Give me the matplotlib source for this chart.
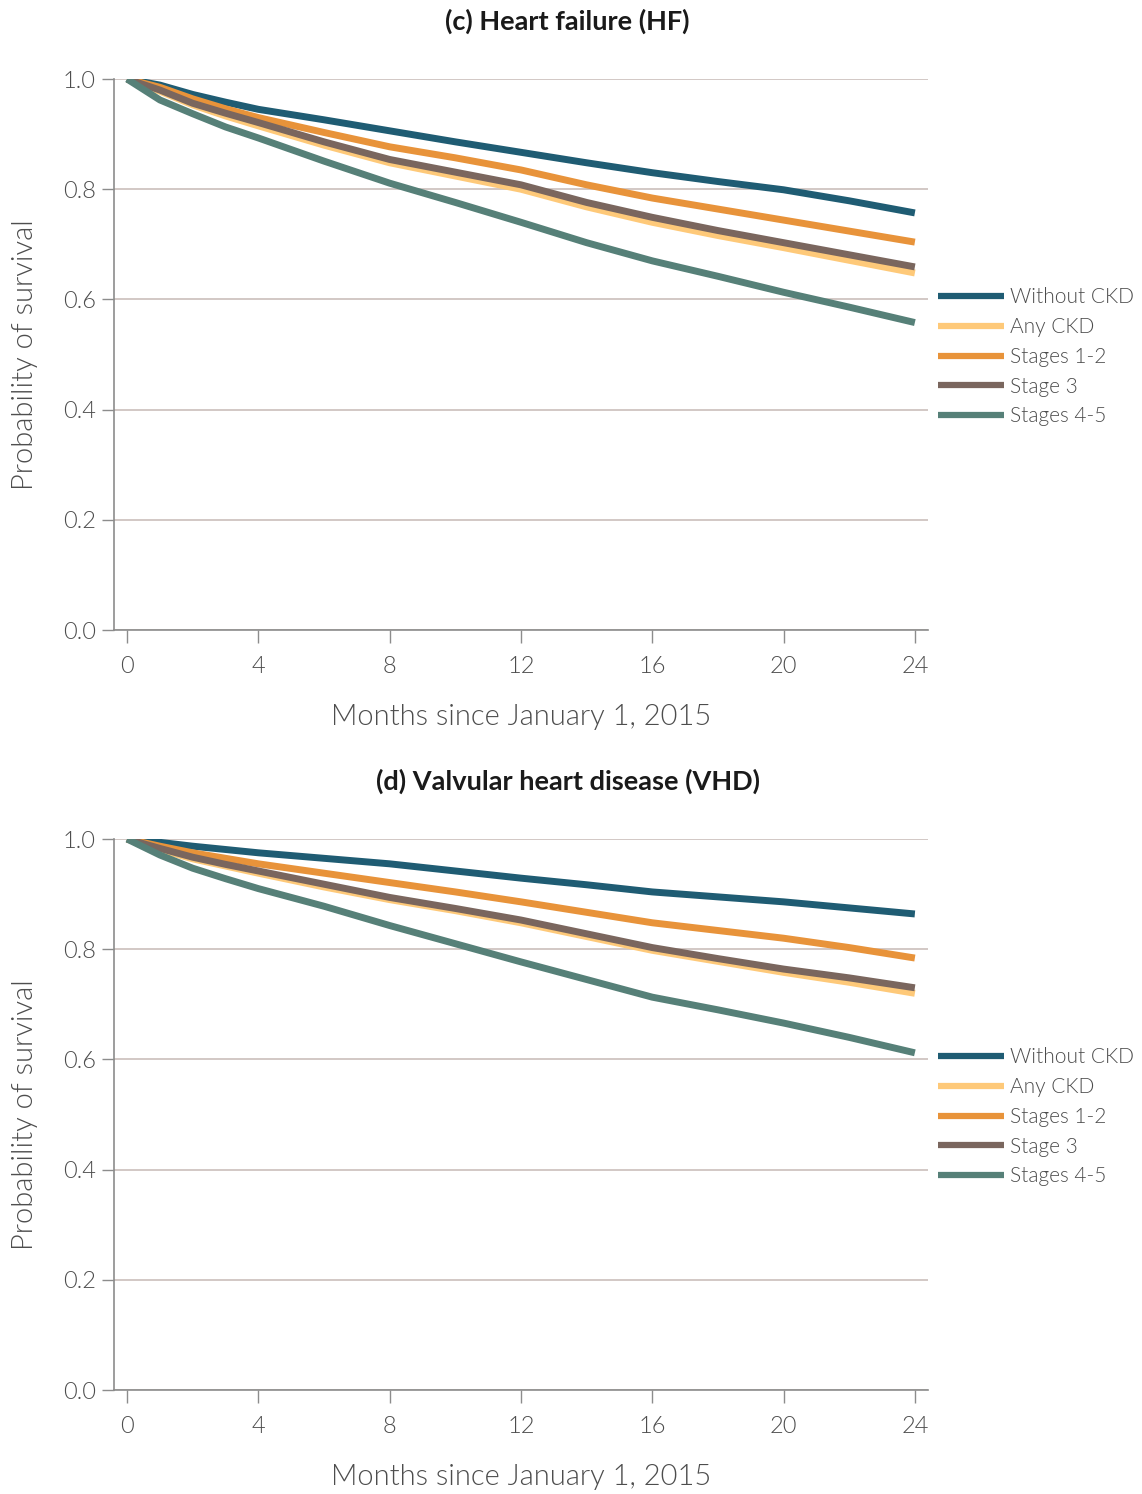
import matplotlib
matplotlib.use("Agg")
import matplotlib.pyplot as plt

months = [0, 1, 2, 3, 4, 6, 8, 10, 12, 14, 16, 18, 20, 22, 24]
series_names = ["Without CKD", "Any CKD", "Stages 1-2", "Stage 3", "Stages 4-5"]
colors = ["#1f5c73", "#fec979", "#e8933a", "#7a665e", "#568078"]

# (c) Heart failure
hf_without = [1.0, 0.989, 0.972, 0.958, 0.945, 0.926, 0.906, 0.886, 0.867, 0.848, 0.830, 0.814, 0.799, 0.779, 0.757]
hf_any = [1.0, 0.978, 0.953, 0.933, 0.915, 0.880, 0.848, 0.824, 0.800, 0.768, 0.740, 0.716, 0.694, 0.671, 0.648]
hf_s12 = [1.0, 0.985, 0.964, 0.946, 0.930, 0.903, 0.877, 0.857, 0.835, 0.808, 0.784, 0.764, 0.744, 0.724, 0.704]
hf_s3 = [1.0, 0.980, 0.956, 0.938, 0.921, 0.886, 0.854, 0.831, 0.808, 0.776, 0.749, 0.725, 0.703, 0.681, 0.659]
hf_s45 = [1.0, 0.962, 0.937, 0.913, 0.893, 0.851, 0.811, 0.776, 0.740, 0.703, 0.670, 0.642, 0.613, 0.586, 0.558]

# (d) Valvular heart disease
vhd_without = [1.0, 0.994, 0.987, 0.981, 0.975, 0.965, 0.955, 0.942, 0.929, 0.917, 0.904, 0.895, 0.886, 0.875, 0.864]
vhd_any = [1.0, 0.981, 0.964, 0.951, 0.938, 0.913, 0.890, 0.870, 0.848, 0.823, 0.798, 0.778, 0.758, 0.740, 0.720]
vhd_s12 = [1.0, 0.987, 0.975, 0.965, 0.955, 0.938, 0.921, 0.904, 0.886, 0.867, 0.848, 0.834, 0.820, 0.803, 0.784]
vhd_s3 = [1.0, 0.983, 0.967, 0.954, 0.942, 0.918, 0.894, 0.874, 0.853, 0.828, 0.803, 0.783, 0.764, 0.748, 0.730]
vhd_s45 = [1.0, 0.971, 0.947, 0.928, 0.910, 0.878, 0.843, 0.810, 0.777, 0.745, 0.713, 0.690, 0.666, 0.640, 0.612]

titles = ["(c) Heart failure (HF)", "(d) Valvular heart disease (VHD)"]
panels = [
    [hf_without, hf_any, hf_s12, hf_s3, hf_s45],
    [vhd_without, vhd_any, vhd_s12, vhd_s3, vhd_s45],
]

plt.rcParams["font.family"] = ["Lato", "DejaVu Sans"]
plt.rcParams["font.weight"] = 300
text_color = "#4d4d4d"
grid_color = "#cbbfbb"
spine_color = "#8c8c8c"

fig = plt.figure(figsize=(11.42, 14.94), dpi=100)
ax_rects = [
    [0.0998, 0.5783, 0.7128, 0.3688],
    [0.0998, 0.0696, 0.7128, 0.3688],
]
title_y = [0.986, 0.477]

for rect, ttl, ty, data in zip(ax_rects, titles, title_y, panels):
    ax = fig.add_axes(rect)
    for name, col, vals in zip(series_names, colors, data):
        ax.plot(months, vals, color=col, lw=5, label=name, solid_capstyle="butt")
    ax.set_xlim(-0.4, 24.4)
    ax.set_ylim(0, 1.0)
    ax.set_xticks(range(0, 25, 4))
    ax.set_yticks([0.0, 0.2, 0.4, 0.6, 0.8, 1.0])
    ax.set_yticklabels(["0.0", "0.2", "0.4", "0.6", "0.8", "1.0"])
    ax.yaxis.grid(True, color=grid_color, lw=1.2)
    ax.set_axisbelow(True)
    for s in ["top", "right"]:
        ax.spines[s].set_visible(False)
    for s in ["left", "bottom"]:
        ax.spines[s].set_color(spine_color)
        ax.spines[s].set_linewidth(1.2)
    ax.tick_params(axis="both", length=9, width=1.0, color=spine_color,
                   labelcolor=text_color, labelsize=17)
    ax.tick_params(axis="x", pad=10)
    ax.tick_params(axis="y", pad=4)
    ax.set_xlabel("Months since January 1, 2015", fontsize=21, color=text_color,
                  labelpad=19, fontweight=300)
    ax.set_ylabel("Probability of survival", fontsize=21, color=text_color,
                  labelpad=18, fontweight=300)
    fig.text(0.497, ty, ttl, ha="center", va="center", fontsize=19.5,
             fontweight="bold", color="#1a1a1a")
    leg = ax.legend(loc="upper left", bbox_to_anchor=(1.012, 0.622), frameon=False,
                    fontsize=15, handlelength=3.2, handletextpad=0.25,
                    labelspacing=0.47, borderaxespad=0, borderpad=0)
    for t in leg.get_texts():
        t.set_color(text_color)
    for h in leg.get_lines():
        h.set_linewidth(4.5)

fig.savefig("out.png", dpi=100)
